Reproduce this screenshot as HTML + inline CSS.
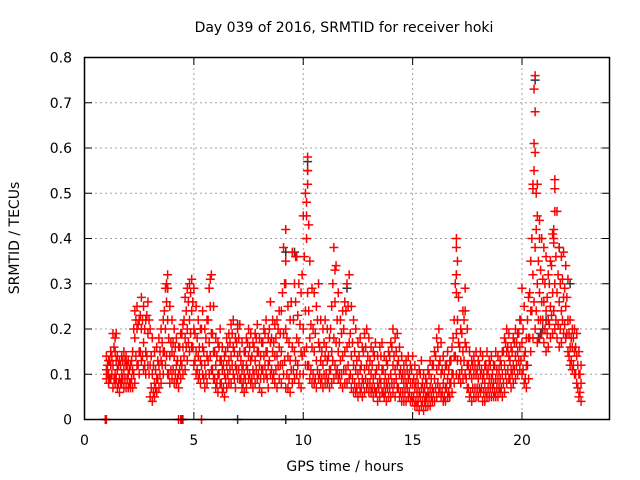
<!DOCTYPE html>
<html><head><meta charset="utf-8"><style>
body{margin:0;background:#fff;}
svg{display:block;font-family:"DejaVu Sans","Liberation Sans",sans-serif;}
</style></head><body>
<svg id="chart" width="640" height="480" xmlns="http://www.w3.org/2000/svg">
<rect width="640" height="480" fill="#fff"/>
<text x="344" y="32" font-size="14" text-anchor="middle">Day 039 of 2016, SRMTID for receiver hoki</text>
<text transform="translate(19,238) rotate(-90)" font-size="14" text-anchor="middle">SRMTID / TECUs</text>
<text x="345" y="471" font-size="14" text-anchor="middle">GPS time / hours</text>
<g id="grid"></g>
<g id="marks"></g>
<rect x="84.5" y="57.5" width="525" height="362" fill="none" stroke="#000" stroke-width="1.5"/>
<g id="ticks"></g>
</svg>
<script>
const xTicks=[0,5,10,15,20];
const yTicks=[0,0.1,0.2,0.3,0.4,0.5,0.6,0.7,0.8];
const yTickLabels=["0","0.1","0.2","0.3","0.4","0.5","0.6","0.7","0.8"];
const tStart=1.0, tStep=0.1, tStart2=1.05;
const redHi=[.14,.13,.15,.19,.15,.14,.13,.14,.15,.14,
.13,.12,.15,.24,.25,.22,.27,.25,.22,.26,
.20,.18,.15,.16,.18,.20,.22,.29,.32,.25,
.22,.20,.18,.16,.19,.21,.27,.29,.30,.31,
.29,.25,.22,.20,.24,.20,.22,.29,.32,.25,
.18,.17,.20,.16,.14,.18,.19,.21,.22,.18,
.20,.21,.17,.15,.18,.20,.19,.17,.19,.21,
.18,.17,.20,.22,.18,.26,.22,.21,.22,.24,
.24,.38,.42,.25,.22,.37,.30,.36,.30,.28,
.45,.50,.58,.35,.29,.28,.25,.30,.22,.20,
.22,.20,.18,.25,.38,.34,.28,.22,.24,.26,
.30,.32,.25,.22,.20,.17,.18,.16,.19,.20,
.18,.16,.15,.17,.14,.16,.17,.14,.13,.15,
.17,.20,.18,.19,.16,.14,.12,.13,.14,.12,
.14,.12,.10,.11,.13,.10,.09,.11,.13,.12,
.15,.18,.20,.17,.14,.12,.15,.13,.16,.22,
.40,.27,.20,.24,.29,.20,.15,.13,.14,.15,
.13,.15,.14,.12,.15,.13,.14,.12,.15,.14,
.13,.15,.18,.20,.19,.16,.18,.20,.19,.22,
.29,.25,.18,.27,.35,.51,.76,.52,.44,.40,
.38,.36,.32,.35,.41,.53,.46,.38,.36,.37,
.34,.31,.22,.20,.20,.19,.15,.12];
const redMid=[.11,.10,.12,.12,.10,.11,.09,.10,.11,.12,
.10,.08,.11,.18,.20,.15,.20,.17,.15,.19,
.12,.10,.08,.09,.12,.13,.15,.20,.22,.14,
.15,.14,.12,.10,.13,.16,.18,.20,.22,.24,
.20,.15,.14,.13,.16,.12,.14,.17,.19,.15,
.12,.10,.13,.11,.10,.12,.13,.14,.16,.12,
.14,.15,.11,.10,.12,.14,.13,.11,.13,.15,
.12,.11,.14,.15,.12,.17,.15,.14,.14,.16,
.15,.19,.20,.14,.13,.16,.15,.18,.17,.15,
.20,.24,.28,.18,.16,.15,.13,.17,.13,.12,
.14,.13,.11,.15,.18,.17,.15,.13,.14,.15,
.16,.17,.14,.12,.11,.10,.11,.09,.11,.12,
.11,.10,.09,.10,.08,.09,.11,.08,.08,.09,
.10,.12,.11,.12,.10,.09,.08,.08,.09,.08,
.08,.07,.06,.06,.07,.06,.05,.06,.07,.07,
.09,.11,.12,.10,.08,.07,.09,.08,.10,.14,
.19,.17,.13,.15,.17,.12,.10,.09,.10,.10,
.09,.10,.09,.08,.10,.09,.09,.08,.09,.09,
.09,.10,.12,.15,.14,.11,.12,.14,.15,.16,
.17,.14,.12,.18,.24,.32,.38,.30,.28,.26,
.26,.24,.22,.25,.28,.30,.28,.26,.24,.27,
.25,.22,.16,.16,.15,.14,.10,.08];
const redLo=[.09,.08,.09,.07,.08,.07,.06,.08,.07,.07,
.07,.07,.07,.08,.12,.10,.13,.11,.10,.12,
.05,.04,.05,.06,.07,.08,.10,.12,.10,.08,
.09,.08,.08,.07,.09,.10,.11,.13,.15,.16,
.12,.10,.09,.08,.10,.07,.08,.10,.11,.09,
.07,.06,.08,.06,.05,.07,.08,.08,.10,.07,
.09,.09,.07,.06,.07,.09,.08,.07,.08,.09,
.07,.06,.09,.10,.07,.10,.09,.08,.07,.09,
.08,.10,.07,.07,.06,.08,.09,.10,.08,.07,
.10,.12,.12,.09,.08,.08,.07,.09,.08,.07,
.08,.08,.07,.08,.09,.10,.09,.08,.07,.08,
.08,.09,.07,.06,.06,.05,.06,.05,.06,.07,
.06,.06,.05,.06,.04,.05,.06,.05,.04,.05,
.05,.06,.05,.07,.05,.04,.04,.04,.05,.04,
.04,.03,.03,.02,.03,.02,.03,.03,.03,.04,
.04,.05,.06,.05,.04,.04,.05,.05,.06,.08,
.10,.09,.08,.09,.10,.07,.05,.04,.05,.05,
.05,.06,.04,.04,.05,.05,.05,.05,.05,.05,
.06,.05,.06,.08,.09,.07,.08,.09,.10,.11,
.10,.08,.07,.09,.15,.18,.20,.17,.18,.19,
.17,.15,.16,.18,.19,.20,.18,.16,.17,.19,
.18,.15,.12,.11,.10,.08,.05,.04];
const redA=[.12,.13,.14,.16,.13,.12,.12,.13,.13,.12,
.11,.13,.20,.22,.21,.23,.22,.20,.23,.22,
.14,.12,.11,.13,.15,.17,.24,.26,.18,.17,
.17,.16,.13,.16,.19,.22,.24,.26,.28,.26,
.19,.18,.16,.20,.15,.18,.22,.25,.19,.15,
.14,.16,.13,.12,.15,.16,.17,.19,.15,.17,
.18,.13,.12,.15,.17,.16,.14,.16,.18,.15,
.14,.17,.19,.15,.20,.18,.17,.18,.20,.19,
.28,.30,.18,.17,.26,.22,.26,.23,.21,.32,
.36,.40,.24,.21,.20,.19,.22,.16,.15,.17,
.16,.14,.20,.30,.26,.22,.17,.19,.20,.24,
.25,.19,.17,.15,.13,.14,.12,.15,.16,.14,
.13,.12,.14,.11,.12,.14,.11,.10,.12,.14,
.16,.14,.15,.13,.11,.10,.10,.11,.10,.11,
.09,.08,.08,.10,.08,.07,.08,.10,.09,.12,
.14,.16,.13,.11,.10,.12,.11,.13,.18,.30,
.22,.16,.19,.22,.16,.12,.11,.12,.12,.11,
.12,.11,.10,.12,.11,.12,.10,.12,.11,.11,
.12,.15,.17,.16,.13,.15,.17,.17,.19,.22,
.20,.15,.22,.28,.40,.55,.42,.35,.33,.31,
.30,.27,.30,.34,.40,.36,.32,.30,.31,.29,
.27,.19,.18,.18,.16,.12,.10];
const redB=[.10,.09,.10,.09,.09,.08,.08,.09,.09,.09,
.08,.09,.10,.14,.12,.15,.14,.12,.14,.10,
.07,.06,.07,.09,.10,.12,.15,.14,.10,.11,
.11,.10,.09,.11,.12,.14,.16,.17,.19,.16,
.13,.11,.10,.12,.09,.10,.13,.14,.11,.09,
.08,.10,.08,.07,.09,.10,.11,.12,.09,.11,
.11,.09,.08,.09,.11,.10,.09,.10,.11,.10,
.09,.11,.12,.09,.13,.11,.10,.11,.12,.12,
.12,.13,.10,.09,.11,.11,.13,.12,.10,.14,
.15,.16,.12,.11,.10,.09,.11,.10,.09,.10,
.10,.09,.11,.13,.12,.11,.10,.10,.11,.11,
.12,.10,.09,.08,.07,.08,.07,.08,.09,.08,
.08,.07,.07,.06,.07,.08,.06,.06,.07,.07,
.08,.08,.09,.07,.06,.06,.06,.07,.06,.05,
.05,.04,.04,.05,.04,.04,.05,.05,.05,.06,
.07,.08,.07,.06,.05,.07,.06,.08,.10,.14,
.13,.10,.11,.13,.09,.07,.06,.07,.07,.07,
.07,.07,.06,.06,.07,.07,.07,.06,.07,.07,
.07,.08,.10,.11,.09,.10,.11,.12,.13,.13,
.11,.09,.12,.18,.24,.26,.24,.22,.22,.22,
.20,.19,.21,.23,.24,.22,.21,.20,.22,.21,
.19,.14,.13,.12,.10,.07,.06];
const spikeTimes=[10.2,10.2,10.15,10.15,10.25,9.2,9.2,9.15,9.65,11.45,20.55,20.6,20.55,20.6,20.5,20.65,20.7,21.5,21.5,21.45,20.8,21.45,17.0,17.05,17.0,17.0,17.4,3.8,3.75,5.75,5.7,1.4,1.45,0.95,1.0,4.3,4.4,4.5,5.35];
const spikeVals=[.55,.52,.48,.45,.43,.35,.30,.30,.36,.33,.73,.68,.61,.59,.52,.50,.45,.51,.46,.42,.40,.39,.38,.35,.32,.28,.24,.29,.30,.31,.29,.18,.19,0,0,0,0,0,0];
const blackTimes=[10.2,10.2,17.0,20.75,20.85,20.95,21.1,9.2,9.6,3.8,7.0,9.2,4.45,20.6,21.7,22.2,12.0,7.0];
const blackVals=[.55,.57,.32,.18,.19,.20,.22,.37,.37,.29,0,0,0,.75,.38,.30,.29,.21];

const X=t=>84.5+t*(525/24);
const Y=v=>419.5-v*(362/0.8);
const NS="http://www.w3.org/2000/svg";
const grid=document.getElementById('grid'),ticks=document.getElementById('ticks'),marks=document.getElementById('marks');
function ln(p,x1,y1,x2,y2,st,dash,w){const l=document.createElementNS(NS,'line');l.setAttribute('x1',x1);l.setAttribute('y1',y1);l.setAttribute('x2',x2);l.setAttribute('y2',y2);l.setAttribute('stroke',st);l.setAttribute('stroke-width',w||1);if(dash)l.setAttribute('stroke-dasharray',dash);p.appendChild(l);return l;}
xTicks.forEach(t=>{const x=X(t);
 const g=ln(grid,x,58,x,419,'#a0a0a0','2,3');
 
 
 ln(ticks,x,419.5,x,412,'#000');ln(ticks,x,57.5,x,65,'#000');
 const tx=document.createElementNS(NS,'text');tx.setAttribute('x',x);tx.setAttribute('y',445);tx.setAttribute('font-size','14');tx.setAttribute('text-anchor','middle');tx.textContent=String(t);
 
 
 ticks.appendChild(tx);});
yTicks.forEach((v,i)=>{const y=Y(v);
 const g=ln(grid,85,y,609,y,'#a0a0a0','2,3');
 
 
 ln(ticks,84.5,y,92,y,'#000');ln(ticks,609.5,y,602,y,'#000');
 const tx=document.createElementNS(NS,'text');tx.setAttribute('x',72);tx.setAttribute('y',y+5);tx.setAttribute('font-size','14');tx.setAttribute('text-anchor','end');tx.textContent=yTickLabels[i];
 
 
 ticks.appendChild(tx);});
function plus(t,v,col){const x=X(t),y=Y(v);const p=document.createElementNS(NS,'path');
 p.setAttribute('d','M'+(x-4.5)+' '+y+'H'+(x+4.5)+'M'+x+' '+(y-4.5)+'V'+(y+4.5));
 p.setAttribute('stroke',col);p.setAttribute('stroke-width','1.5');p.setAttribute('fill','none');
 
 
 marks.appendChild(p);}
blackTimes.forEach((t,i)=>plus(t,blackVals[i],'#333'));
[redHi,redMid,redLo].forEach(arr=>arr.forEach((v,i)=>plus(tStart+i*tStep,v,'#ff0000')));
[redA,redB].forEach(arr=>arr.forEach((v,i)=>plus(tStart2+i*tStep,v,'#ff0000')));
spikeTimes.forEach((t,i)=>plus(t,spikeVals[i],'#ff0000'));
</script>
</body></html>
